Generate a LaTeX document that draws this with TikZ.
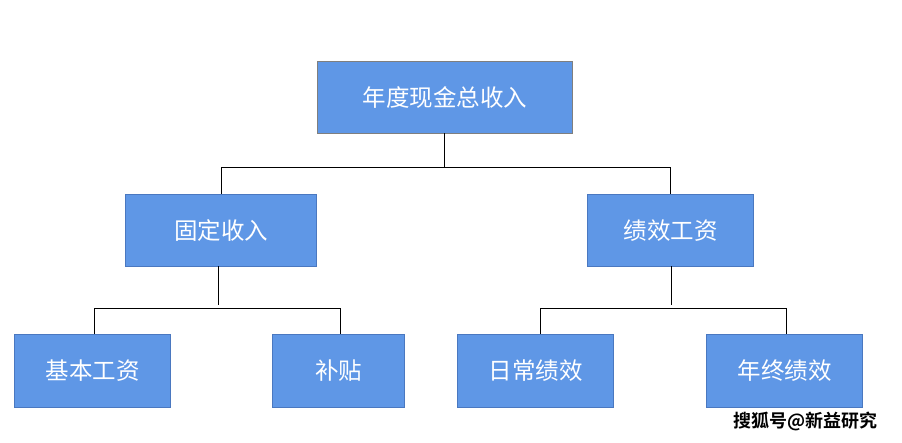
\documentclass[tikz,border=0pt]{standalone}
\usepackage{fontspec}
\newfontfamily\cjk{Noto Sans CJK SC}
\newfontfamily\cjkb{Noto Sans CJK SC Bold}
\begin{document}
\begin{tikzpicture}[x=1pt,y=-1pt,
  box/.style={draw=bordblue,line width=1pt,fill=boxblue,text=white,font=\cjk\fontsize{23.5}{26}\selectfont,inner sep=0pt,anchor=north west},
  conn/.style={draw=black,line width=1pt}]
\definecolor{boxblue}{HTML}{5F97E6}
\definecolor{bordblue}{HTML}{4A78C0}
\definecolor{topbord}{HTML}{7F7F7F}
\useasboundingbox (0,0) rectangle (902,442);
\node[box,draw=topbord,minimum width=255pt,minimum height=72pt] (top) at (317,61) {年度现金总收入};
\node[box,minimum width=191pt,minimum height=72pt] (fix) at (125,194) {固定收入};
\node[box,minimum width=166pt,minimum height=72pt] (perf) at (587,194) {绩效工资};
\node[box,minimum width=156pt,minimum height=73pt] (base) at (14,334) {基本工资};
\node[box,minimum width=132pt,minimum height=73pt] (sub) at (272,334) {补贴};
\node[box,minimum width=156pt,minimum height=73pt] (daily) at (457,334) {日常绩效};
\node[box,minimum width=156pt,minimum height=73pt] (year) at (706,334) {年终绩效};
% junction coordinates
\coordinate (t0) at (444.3,133);
\coordinate (j1) at (444.3,167);
\coordinate (f0) at (218,266);
\coordinate (f1) at (218,305);
\coordinate (fl) at (94,308);
\coordinate (fr) at (340,308);
\coordinate (p0) at (671,266);
\coordinate (p1) at (671,305);
\coordinate (pl) at (540,308);
\coordinate (pr) at (786.5,308);
\draw[conn] (t0) -- (j1);
\draw[conn] (j1) -| (fix.north);
\draw[conn] (j1) -| (perf.north);
\draw[conn] (f0) -- (f1);
\draw[conn] (base.north -| fl) -- (fl) -- (fr) -- (sub.north -| fr);
\draw[conn] (p0) -- (p1);
\draw[conn] (daily.north -| pl) -- (pl) -- (pr) -- (year.north -| pr);
\node[font=\cjkb\fontsize{18}{20}\selectfont,text=black,anchor=west,inner sep=0pt] (wm) at (733,421) {搜狐号@新益研究};
\end{tikzpicture}
\end{document}
